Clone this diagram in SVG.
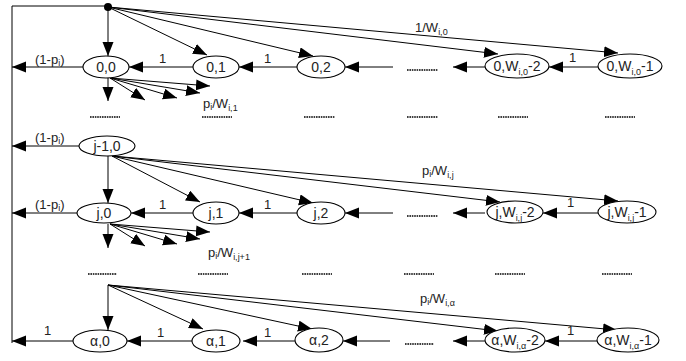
<svg xmlns="http://www.w3.org/2000/svg" width="686" height="361" viewBox="0 0 686 361">
<style>
.n ellipse{fill:#fff;stroke:#000;stroke-width:1.1}
text{font-family:"Liberation Sans",Arial,sans-serif;fill:#222}
.nl{font-size:14px;text-anchor:middle}
.el{font-size:13px}
.sb{font-size:9px}
.dash{stroke:#000;stroke-width:1.6;stroke-dasharray:1.6 0.8}
#conn line,#conn polyline{stroke:#000;stroke-width:1;fill:none;marker-end:url(#ah)}
#conn polyline.plain{marker-end:none}
</style>
<defs>
<marker id="ah" markerUnits="userSpaceOnUse" markerWidth="15" markerHeight="12" refX="14" refY="5.5" orient="auto">
<path d="M0,0 L14,5.5 L0,11 z" fill="#000"/>
</marker>
</defs>
<g id="conn">
<polyline class="plain" points="108,6 12,6 12,343"/>
<!-- top fan -->
<line x1="108" y1="7" x2="108" y2="56"/>
<line x1="108" y1="7" x2="207" y2="55"/>
<line x1="108" y1="7" x2="313" y2="56"/>
<line x1="108" y1="7" x2="498" y2="54"/>
<line x1="108" y1="7" x2="618" y2="53"/>
<!-- row 0 -->
<line x1="83" y1="67" x2="12" y2="67"/>
<line x1="193" y1="67" x2="129" y2="67"/>
<line x1="297" y1="67" x2="239" y2="67"/>
<line x1="393" y1="67" x2="345" y2="67"/>
<line x1="485" y1="67" x2="453" y2="67"/>
<line x1="598" y1="67" x2="549" y2="67"/>
<!-- fan below 0,0 -->
<line x1="108" y1="78" x2="108" y2="101"/>
<line x1="110" y1="78" x2="145" y2="100"/>
<line x1="110" y1="78" x2="177" y2="98"/>
<line x1="110" y1="78" x2="200" y2="93"/>
<line x1="110" y1="78" x2="210" y2="86"/>
<!-- row j-1 -->
<line x1="79" y1="146" x2="12" y2="146"/>
<line x1="108" y1="156" x2="108" y2="203"/>
<line x1="112" y1="156" x2="200" y2="202"/>
<line x1="112" y1="156" x2="313" y2="203"/>
<line x1="112" y1="156" x2="500" y2="202"/>
<line x1="112" y1="156" x2="618" y2="201"/>
<!-- row j -->
<line x1="77" y1="213" x2="12" y2="213"/>
<line x1="193" y1="213" x2="131" y2="213"/>
<line x1="297" y1="213" x2="239" y2="213"/>
<line x1="393" y1="213" x2="345" y2="213"/>
<line x1="485" y1="213" x2="453" y2="213"/>
<line x1="598" y1="213" x2="543" y2="213"/>
<!-- fan below j,0 -->
<line x1="108" y1="224" x2="108" y2="248"/>
<line x1="110" y1="224" x2="145" y2="246"/>
<line x1="110" y1="224" x2="177" y2="244"/>
<line x1="110" y1="224" x2="200" y2="239"/>
<line x1="110" y1="224" x2="210" y2="232"/>
<!-- alpha fan -->
<line x1="108" y1="285" x2="108" y2="330"/>
<line x1="108" y1="285" x2="203" y2="329"/>
<line x1="108" y1="285" x2="312" y2="329"/>
<line x1="108" y1="285" x2="498" y2="331"/>
<line x1="108" y1="285" x2="617" y2="330"/>
<!-- row alpha -->
<line x1="73" y1="341" x2="12" y2="341"/>
<line x1="192" y1="341" x2="127" y2="341"/>
<line x1="295" y1="341" x2="243" y2="341"/>
<line x1="390" y1="341" x2="343" y2="341"/>
<line x1="485" y1="341" x2="453" y2="341"/>
<line x1="597" y1="341" x2="545" y2="341"/>
</g>
<circle cx="108" cy="7" r="4" fill="#000"/>
<!-- dashes -->
<g id="dots">
<line class="dash" x1="90" y1="117" x2="120" y2="117"/>
<line class="dash" x1="202" y1="117" x2="232" y2="117"/>
<line class="dash" x1="304" y1="117" x2="335" y2="117"/>
<line class="dash" x1="407" y1="117" x2="438" y2="117"/>
<line class="dash" x1="498" y1="117" x2="528" y2="117"/>
<line class="dash" x1="605" y1="117" x2="635" y2="117"/>
<line class="dash" x1="407" y1="70" x2="438" y2="70"/>
<line class="dash" x1="407" y1="216" x2="438" y2="216"/>
<line class="dash" x1="88" y1="274" x2="117" y2="274"/>
<line class="dash" x1="198" y1="274" x2="228" y2="274"/>
<line class="dash" x1="302" y1="274" x2="332" y2="274"/>
<line class="dash" x1="404" y1="274" x2="434" y2="274"/>
<line class="dash" x1="495" y1="274" x2="525" y2="274"/>
<line class="dash" x1="602" y1="274" x2="632" y2="274"/>
<line class="dash" x1="405" y1="344" x2="434" y2="344"/>
</g>
<!-- nodes -->
<g id="n00" class="n"><ellipse cx="106" cy="67" rx="23" ry="11"/><text class="nl" x="106" y="72">0,0</text></g>
<g id="n01" class="n"><ellipse cx="216" cy="67" rx="23" ry="11"/><text class="nl" x="216" y="72">0,1</text></g>
<g id="n02" class="n"><ellipse cx="321" cy="67" rx="24" ry="11"/><text class="nl" x="321" y="72">0,2</text></g>
<g id="n0w2" class="n"><ellipse cx="517" cy="66" rx="32" ry="12"/><text class="nl" x="517" y="71">0,W<tspan class="sb" dy="4">i,0</tspan><tspan dy="-4">-2</tspan></text></g>
<g id="n0w1" class="n"><ellipse cx="630" cy="66" rx="32" ry="12"/><text class="nl" x="630" y="71">0,W<tspan class="sb" dy="4">i,0</tspan><tspan dy="-4">-1</tspan></text></g>
<g id="nj10" class="n"><ellipse cx="107" cy="146" rx="28" ry="10"/><text class="nl" x="107" y="151">j-1,0</text></g>
<g id="nj0" class="n"><ellipse cx="104" cy="213" rx="27" ry="10"/><text class="nl" x="104" y="218">j,0</text></g>
<g id="nj1" class="n"><ellipse cx="216" cy="213" rx="23" ry="11"/><text class="nl" x="216" y="218">j,1</text></g>
<g id="nj2" class="n"><ellipse cx="321" cy="213" rx="24" ry="11"/><text class="nl" x="321" y="218">j,2</text></g>
<g id="njw2" class="n"><ellipse cx="515" cy="212" rx="28" ry="11"/><text class="nl" x="515" y="217">j,W<tspan class="sb" dy="4">i,j</tspan><tspan dy="-4">-2</tspan></text></g>
<g id="njw1" class="n"><ellipse cx="627" cy="212" rx="29" ry="11"/><text class="nl" x="627" y="217">j,W<tspan class="sb" dy="4">i,j</tspan><tspan dy="-4">-1</tspan></text></g>
<g id="na0" class="n"><ellipse cx="100" cy="341" rx="27" ry="11"/><text class="nl" x="100" y="346">α,0</text></g>
<g id="na1" class="n"><ellipse cx="216" cy="341" rx="24" ry="11"/><text class="nl" x="216" y="346">α,1</text></g>
<g id="na2" class="n"><ellipse cx="319" cy="340" rx="24" ry="12"/><text class="nl" x="319" y="345">α,2</text></g>
<g id="naw2" class="n"><ellipse cx="515" cy="340" rx="30" ry="12"/><text class="nl" x="515" y="345">α,W<tspan class="sb" dy="4">i,α</tspan><tspan dy="-4">-2</tspan></text></g>
<g id="naw1" class="n"><ellipse cx="628" cy="340" rx="31" ry="12"/><text class="nl" x="628" y="345">α,W<tspan class="sb" dy="4">i,α</tspan><tspan dy="-4">-1</tspan></text></g>
<!-- edge labels -->
<g id="labels" class="el">
<text class="el" x="35" y="64">(1-p<tspan class="sb" dy="2">i</tspan><tspan dy="-2">)</tspan></text>
<text class="el" x="35" y="142">(1-p<tspan class="sb" dy="2">i</tspan><tspan dy="-2">)</tspan></text>
<text class="el" x="35" y="209">(1-p<tspan class="sb" dy="2">i</tspan><tspan dy="-2">)</tspan></text>
<text class="el" x="44" y="335">1</text>
<text class="el" x="159" y="63">1</text>
<text class="el" x="264" y="63">1</text>
<text class="el" x="569" y="62">1</text>
<text class="el" x="159" y="209">1</text>
<text class="el" x="264" y="209">1</text>
<text class="el" x="567" y="207">1</text>
<text class="el" x="157" y="337">1</text>
<text class="el" x="264" y="337">1</text>
<text class="el" x="567" y="335">1</text>
<text class="el" x="415" y="32">1/W<tspan class="sb" dy="3">i,0</tspan></text>
<text class="el" x="203" y="108">p<tspan class="sb" dy="2">i</tspan><tspan dy="-2">/W</tspan><tspan class="sb" dy="3">i,1</tspan></text>
<text class="el" x="422" y="175">p<tspan class="sb" dy="2">i</tspan><tspan dy="-2">/W</tspan><tspan class="sb" dy="3">i,j</tspan></text>
<text class="el" x="208" y="257">p<tspan class="sb" dy="2">i</tspan><tspan dy="-2">/W</tspan><tspan class="sb" dy="3">i,j+1</tspan></text>
<text class="el" x="420" y="303">p<tspan class="sb" dy="2">i</tspan><tspan dy="-2">/W</tspan><tspan class="sb" dy="3">i,α</tspan></text>
</g>
</svg>
